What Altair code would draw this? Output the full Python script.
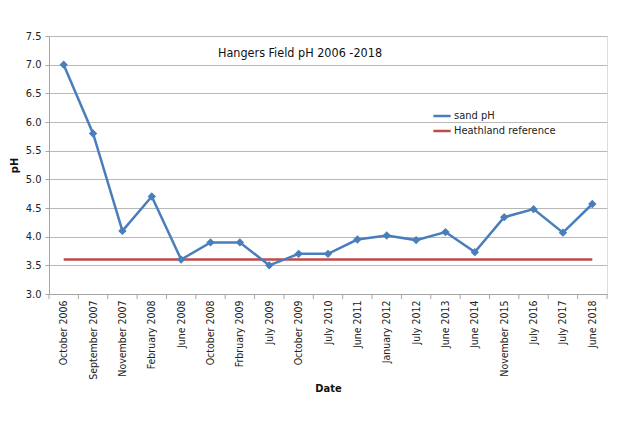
import altair as alt
import pandas as pd

dates = ["October 2006", "September 2007", "November 2007", "February 2008", "June 2008",
         "October 2008", "Frbruary 2009", "July 2009", "October 2009", "July 2010",
         "June 2011", "January 2012", "July 2012", "June 2013", "June 2014",
         "November 2015", "July 2016", "July 2017", "June 2018"]
sand_ph = [7.0, 5.8, 4.1, 4.7, 3.6, 3.9, 3.9, 3.5, 3.7, 3.7,
           3.95, 4.02, 3.94, 4.08, 3.73, 4.34, 4.48, 4.07, 4.57]
heathland_ref = [3.6, 3.6, 3.6, 3.6, 3.6, 3.6, 3.6, 3.6, 3.6, 3.6,
                 3.6, 3.6, 3.6, 3.6, 3.6, 3.6, 3.6, 3.6, 3.6]
y_ticks = [3.0, 3.5, 4.0, 4.5, 5.0, 5.5, 6.0, 6.5, 7.0, 7.5]
title_text = "Hangers Field pH 2006 -2018"
series_names = ["sand pH", "Heathland reference"]

BLUE = "#4A7EBB"
RED = "#BE4B48"
FONT = "DejaVu Sans Condensed"
W, H = 558, 258

idx = list(range(len(dates)))
sand_df = pd.DataFrame({"idx": idx, "date": dates, "value": sand_ph, "series": series_names[0]})
ref_df = pd.DataFrame({"idx": idx, "date": dates, "value": heathland_ref, "series": series_names[1]})
bounds_df = pd.DataFrame({"idx": [i - 0.5 for i in range(len(dates) + 1)]})

label_expr = "[" + ",".join("'" + d + "'" for d in dates) + "][datum.value]"

x_scale = alt.Scale(domain=[-0.5, len(dates) - 0.5], nice=False, zero=False)
y_scale = alt.Scale(domain=[3.0, 7.5], nice=False, zero=False)

x_axis = alt.Axis(values=idx, labelExpr=label_expr, labelAngle=270,
                  tickSize=0, grid=False, labelPadding=6,
                  labelFont=FONT, labelFontSize=10.5, labelColor="#222",
                  domainColor="#A6A6A6", title="Date",
                  titleFont=FONT, titleFontSize=11, titleFontWeight="bold",
                  titleY=94, titleBaseline="middle", titleColor="#111",
                  labelOverlap=False, labelFlush=False)
x_enc = alt.X("idx:Q", scale=x_scale, axis=x_axis)
y_enc = alt.Y("value:Q", scale=y_scale,
              axis=alt.Axis(values=y_ticks, format=".1f", tickSize=4, labelPadding=4,
                            tickColor="#A6A6A6", domainColor="#A6A6A6",
                            gridColor="#B8B8B8", grid=True,
                            labelFont=FONT, labelFontSize=11, labelColor="#222",
                            title="pH", titleFont=FONT, titleFontSize=11,
                            titleFontWeight="bold", titleAngle=270,
                            titleX=-35, titleY=H / 2, titleBaseline="middle",
                            titleAlign="center", titleColor="#111"))

color_enc = alt.Color("series:N",
                      scale=alt.Scale(domain=series_names, range=[BLUE, RED]),
                      legend=alt.Legend(title=None, orient="none", legendX=383, legendY=70,
                                        symbolType="stroke", symbolSize=300,
                                        symbolStrokeWidth=2.5, rowPadding=0,
                                        labelFont=FONT, labelFontSize=11,
                                        labelColor="#222", labelOffset=2))

ref_line = alt.Chart(ref_df).mark_line(strokeWidth=2.5).encode(
    x=x_enc, y=y_enc, color=color_enc)
sand_line = alt.Chart(sand_df).mark_line(strokeWidth=2.5).encode(
    x=x_enc, y=y_enc, color=color_enc)
sand_pts = alt.Chart(sand_df).mark_point(shape="diamond", filled=True, size=70,
                                         opacity=1, color=BLUE).encode(
    x=x_enc, y=y_enc)

ticks = alt.Chart(bounds_df).mark_rule(color="#A6A6A6", strokeWidth=1).encode(
    x=x_enc, y=alt.value(H), y2=alt.value(H + 5))

title = alt.Chart(pd.DataFrame({"t": [title_text]})).mark_text(
    font=FONT, fontSize=12.5, color="#111", baseline="middle", align="center").encode(
    text="t:N", x=alt.value(251), y=alt.value(17))

chart = alt.layer(ref_line, sand_line, sand_pts, ticks, title).properties(
    width=W, height=H,
    autosize=alt.AutoSizeParams(type="none"),
    padding={"left": 41, "top": 28, "right": 25, "bottom": 120},
).configure_view(stroke=None).configure(background="white")

chart.save("out.html", embed_options={"renderer": "svg", "actions": False})
